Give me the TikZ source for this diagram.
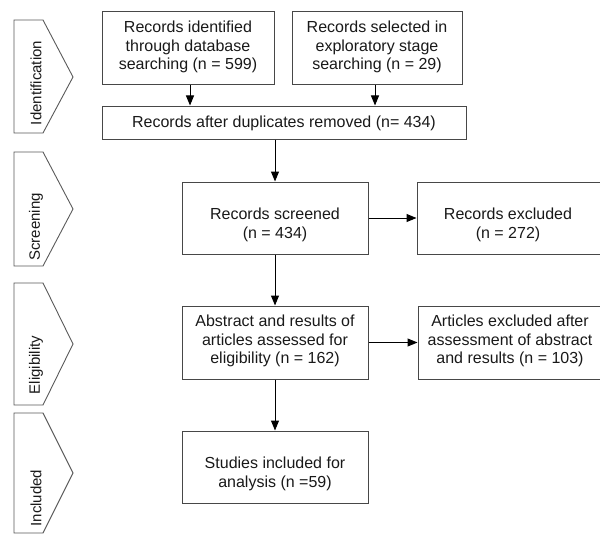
\documentclass[tikz,border=0pt]{standalone}
\usepackage{fontspec}
\setmainfont{Liberation Sans}
\usetikzlibrary{arrows.meta}
\begin{document}
\begin{tikzpicture}[x=1pt,y=-1pt,
  box/.style={draw=black!72, line width=1pt, rectangle, inner sep=0pt},
  txt/.style={align=center, inner sep=0pt, text=black!90, font=\fontsize{16}{18.8}\selectfont},
  stagetxt/.style={rotate=90, inner sep=0pt, text=black!90, font=\fontsize{15}{17}\selectfont},
  chev/.style={draw=black!65, line width=0.9pt},
  arr/.style={draw=black, line width=1pt, -{Triangle[length=10pt,width=8pt]}},
  ln/.style={draw=black, line width=1pt}]
\useasboundingbox (0,0) rectangle (600,535);
\clip (0,0) rectangle (600,535);
% stage chevrons
\draw[chev] (14,20) -- (43,20) -- (73,77) -- (43,133) -- (14,133) -- cycle;
\draw[chev] (14,152) -- (43,152) -- (73,209) -- (43,266) -- (14,266) -- cycle;
\draw[chev] (14,283) -- (43,283) -- (73,344) -- (43,405) -- (14,405) -- cycle;
\draw[chev] (14,413) -- (43,413) -- (73,473) -- (43,533) -- (14,533) -- cycle;
\node[stagetxt] (sid) at (36,83) {Identification};
\node[stagetxt] (ssc) at (36,227) {Screening};
\node[stagetxt] (sel) at (36,365) {Eligibility};
\node[stagetxt] (sin) at (36,498) {Included};
% boxes
\node[box, minimum width=172pt, minimum height=73pt] (b1) at (188,48.5) {};
\node[txt] (b1t) at (188,47) {Records identified\\through database\\searching (n = 599)};
\node[box, minimum width=170pt, minimum height=73pt] (b2) at (377,48.5) {};
\node[txt] (b2t) at (377,47) {Records selected in\\exploratory stage\\searching (n = 29)};
\node[box, minimum width=364pt, minimum height=33pt] (b3) at (284,122.5) {};
\node[txt] (b3t) at (284,123) {Records after duplicates removed (n= 434)};
\node[box, minimum width=186pt, minimum height=72pt] (scr) at (275,218) {};
\node[txt] (scrt) at (275,225) {Records screened\\(n = 434)};
\node[box, minimum width=184pt, minimum height=72pt] (ex1) at (509,218) {};
\node[txt] (ex1t) at (508,225) {Records excluded\\(n = 272)};
\node[box, minimum width=186pt, minimum height=73pt] (elig) at (275,342.5) {};
\node[txt] (eligt) at (275,341) {Abstract and results of\\articles assessed for\\eligibility (n = 162)};
\node[box, minimum width=183pt, minimum height=73pt] (ex2) at (509.5,342.5) {};
\node[txt] (ex2t) at (510,341) {Articles excluded after\\assessment of abstract\\and results (n = 103)};
\node[box, minimum width=186pt, minimum height=72pt] (inc) at (275,467) {};
\node[txt] (inct) at (275,474) {Studies included for\\analysis (n =59)};
% connectors
\draw[arr] ([xshift=2pt]b1.south) -- ([xshift=2pt]b1.south |- b3.north);
\draw[arr] ([xshift=-2pt]b2.south) -- ([xshift=-2pt]b2.south |- b3.north);
\draw[arr] (scr.north |- b3.south) -- (scr.north);
\draw[arr] (scr.east) -- (ex1.west);
\draw[arr] (scr.south) -- (elig.north);
\draw[arr] (elig.east) -- (ex2.west);
\draw[arr] (elig.south) -- (inc.north);
\end{tikzpicture}
\end{document}
